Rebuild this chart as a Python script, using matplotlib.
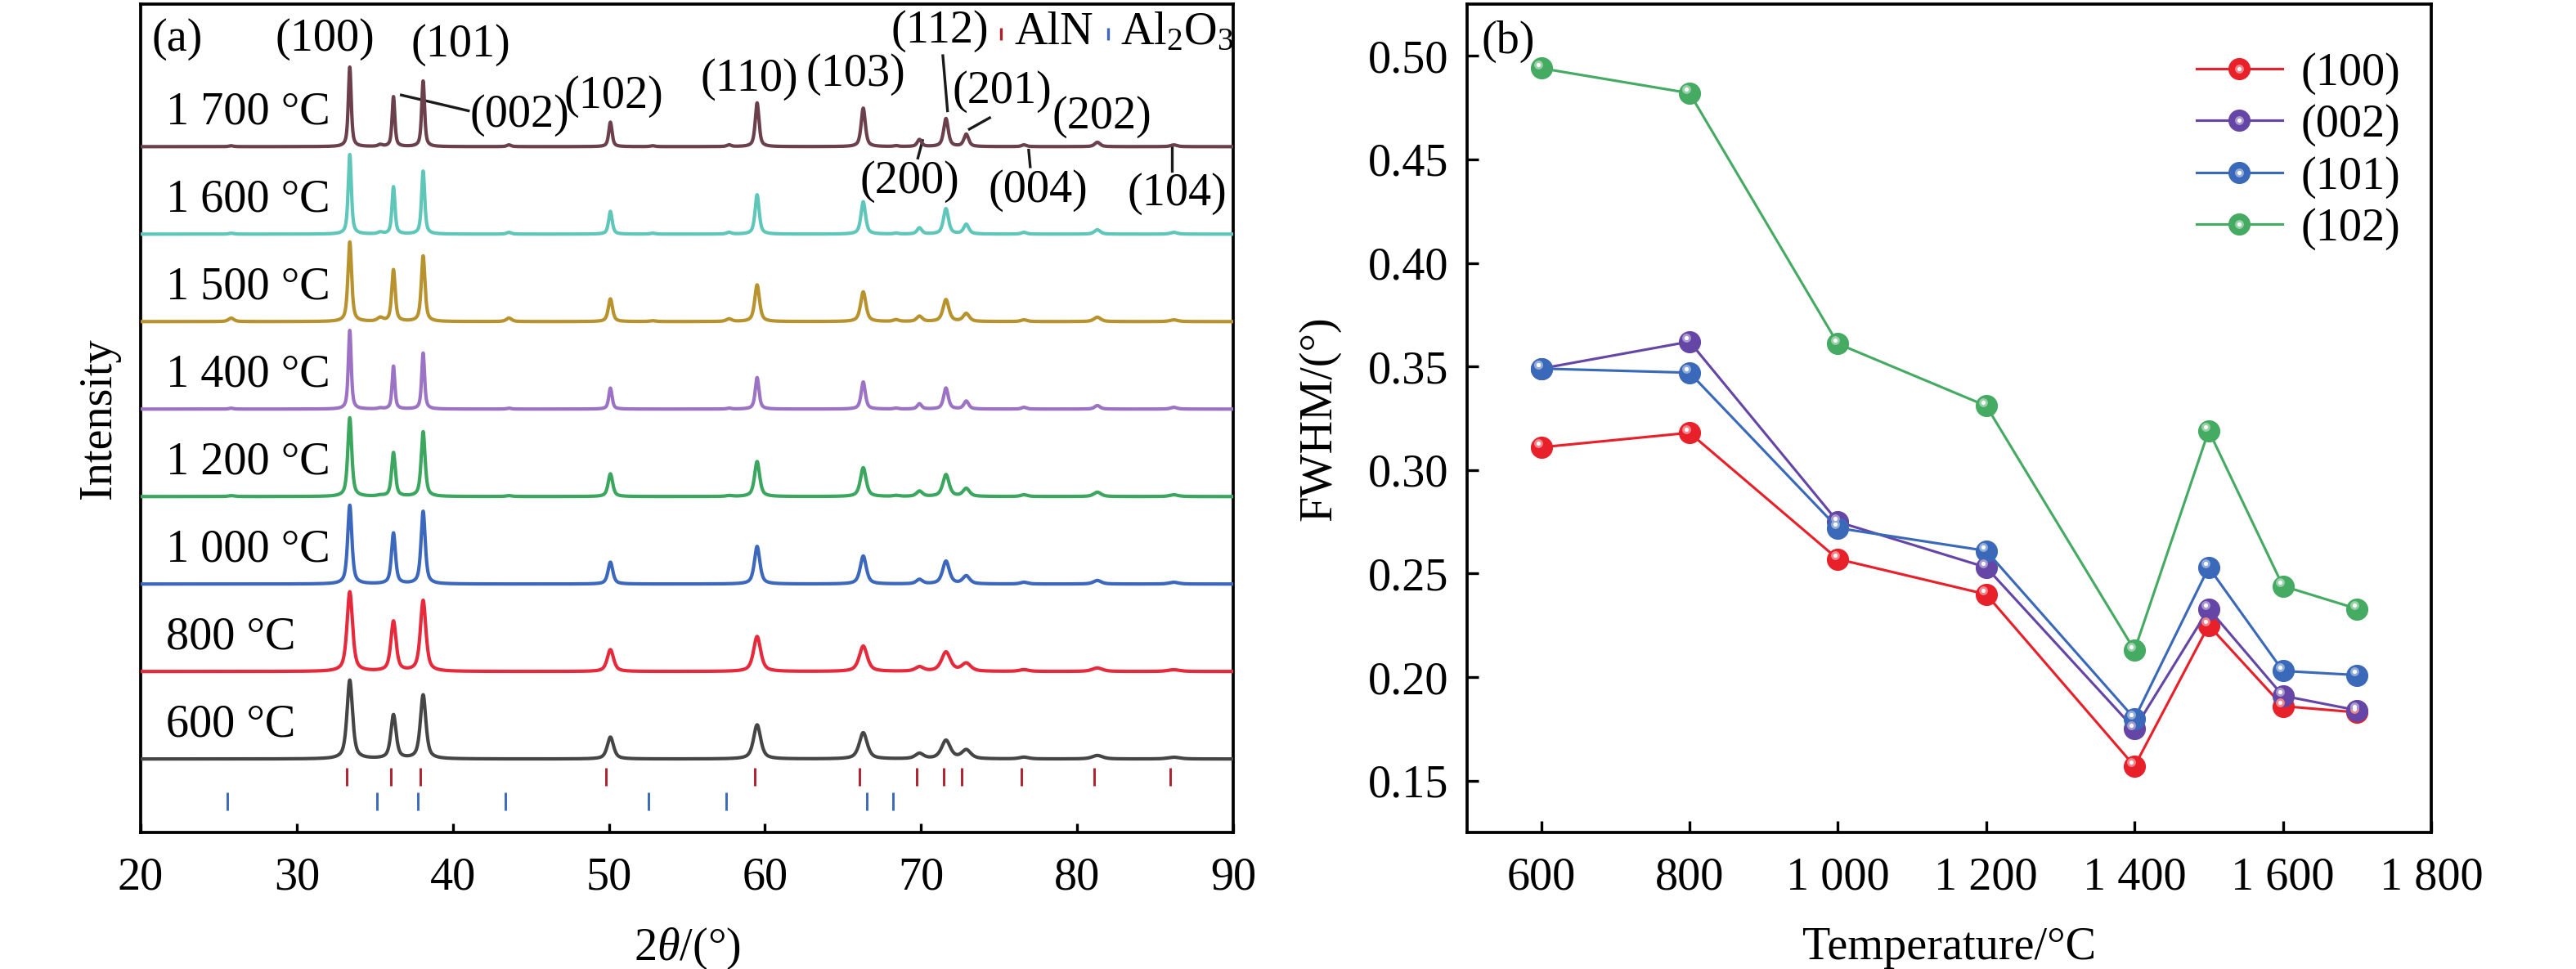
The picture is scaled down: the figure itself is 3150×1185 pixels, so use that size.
import numpy as np
import matplotlib
matplotlib.use("Agg")
import matplotlib.pyplot as plt
from matplotlib.transforms import ScaledTranslation
from matplotlib.legend_handler import HandlerTuple

plt.rcParams['font.family'] = ['Liberation Serif', 'DejaVu Serif']
plt.rcParams['mathtext.fontset'] = 'custom'
plt.rcParams['mathtext.rm'] = 'Liberation Serif'
plt.rcParams['mathtext.it'] = 'Liberation Serif:italic'
plt.rcParams['font.size'] = 13.5

# ---------------- data: panel (a) XRD ----------------
samples = ['600 °C', '800 °C', '1 000 °C', '1 200 °C', '1 400 °C', '1 500 °C', '1 600 °C', '1 700 °C']
sample_colors = ['#454545', '#e62a3c', '#3b67bd', '#3aa65e', '#9b72c4', '#b8922c', '#5ec7ba', '#6b3f4c']
offsets = [0, 1, 2, 3, 4, 5, 6, 7]

aln_hkl = ['(100)', '(002)', '(101)', '(102)', '(110)', '(103)', '(200)', '(112)', '(201)', '(004)', '(202)', '(104)']
aln_peak_pos = [33.4, 36.2, 38.1, 50.1, 59.5, 66.3, 69.9, 71.6, 72.9, 76.6, 81.3, 86.2]
aln_width_factor = [1.0, 0.95, 1.0, 1.15, 1.3, 1.45, 1.5, 1.6, 1.65, 1.7, 1.9, 2.2]
aln_heights = [
    [0.90, 0.50, 0.73, 0.25, 0.39, 0.30, 0.06, 0.21, 0.10, 0.02, 0.04, 0.02],
    [0.91, 0.57, 0.81, 0.25, 0.40, 0.29, 0.05, 0.22, 0.09, 0.02, 0.04, 0.02],
    [0.90, 0.58, 0.83, 0.25, 0.43, 0.32, 0.05, 0.26, 0.09, 0.02, 0.04, 0.02],
    [0.90, 0.50, 0.74, 0.26, 0.40, 0.33, 0.06, 0.25, 0.09, 0.02, 0.05, 0.02],
    [0.90, 0.49, 0.64, 0.24, 0.36, 0.31, 0.06, 0.24, 0.09, 0.02, 0.04, 0.02],
    [0.91, 0.59, 0.75, 0.26, 0.42, 0.34, 0.06, 0.25, 0.09, 0.02, 0.05, 0.02],
    [0.91, 0.54, 0.72, 0.26, 0.45, 0.37, 0.07, 0.29, 0.11, 0.02, 0.05, 0.02],
    [0.91, 0.57, 0.75, 0.28, 0.50, 0.44, 0.08, 0.32, 0.14, 0.02, 0.05, 0.02],
]
sample_fwhm = [0.42, 0.42, 0.32, 0.30, 0.22, 0.28, 0.24, 0.22]

al2o3_peak_pos = [25.8, 35.35, 43.6, 52.8, 57.7, 68.4]
al2o3_heights = [
    [0, 0, 0, 0, 0, 0],
    [0, 0, 0, 0, 0, 0],
    [0, 0, 0, 0, 0, 0],
    [0.01, 0.01, 0.01, 0, 0.01, 0.01],
    [0.01, 0.01, 0.01, 0, 0.01, 0.01],
    [0.04, 0.04, 0.04, 0.01, 0.03, 0.02],
    [0.01, 0.02, 0.02, 0.01, 0.02, 0.01],
    [0.01, 0.02, 0.02, 0.01, 0.02, 0.01],
]

aln_ref = [33.22, 36.04, 37.92, 49.82, 59.35, 66.05, 69.73, 71.44, 72.63, 76.44, 81.09, 85.97]
al2o3_ref = [25.58, 35.15, 37.78, 43.36, 52.55, 57.50, 66.52, 68.21]

# ---------------- data: panel (b) FWHM ----------------
temps = [600, 800, 1000, 1200, 1400, 1500, 1600, 1700]
fwhm_100 = [0.311, 0.318, 0.257, 0.240, 0.157, 0.225, 0.186, 0.183]
fwhm_002 = [0.349, 0.362, 0.275, 0.253, 0.175, 0.233, 0.191, 0.184]
fwhm_101 = [0.349, 0.347, 0.272, 0.261, 0.180, 0.253, 0.203, 0.201]
fwhm_102 = [0.494, 0.482, 0.361, 0.331, 0.213, 0.319, 0.244, 0.233]
fwhm_labels = ['(100)', '(002)', '(101)', '(102)']
fwhm_colors = ['#e8202a', '#6546a6', '#3b69b9', '#45aa62']

# ---------------- figure ----------------
fig = plt.figure(figsize=(10.5, 3.95), dpi=300)
axa = fig.add_axes([0.0546, 0.1409, 0.4241, 0.8549])
axb = fig.add_axes([0.5695, 0.1409, 0.3743, 0.8549])

def pv(x, x0, w, eta=0.65):
    g = np.exp(-4 * np.log(2) * ((x - x0) / w) ** 2)
    l = 1.0 / (1 + 4 * ((x - x0) / w) ** 2)
    return eta * l + (1 - eta) * g

x = np.linspace(20, 90, 8001)
for i in range(len(samples)):
    y = np.zeros_like(x)
    for p, h, f in zip(aln_peak_pos, aln_heights[i], aln_width_factor):
        y += h * pv(x, p, sample_fwhm[i] * f)
    for p, h in zip(al2o3_peak_pos, al2o3_heights[i]):
        y += h * pv(x, p, sample_fwhm[i] * 1.5)
    axa.plot(x, y + offsets[i], color=sample_colors[i], lw=1.0, zorder=3)
    axa.text(21.6, offsets[i] + 0.39, samples[i], ha='left', va='center', fontsize=13.5)

axa.vlines(aln_ref, -0.31, -0.10, color='#b0202c', lw=0.7)
axa.vlines(al2o3_ref, -0.59, -0.38, color='#3b67bd', lw=0.7)

axa.set_xlim(20, 90)
axa.set_ylim(-0.84, 8.63)
axa.set_xticks(range(20, 91, 10))
axa.set_yticks([])
axa.set_xlabel(r'2$\it{\theta}$/(°)', fontsize=13.5, labelpad=8)
axa.set_ylabel('Intensity', fontsize=13.5, labelpad=6)
axa.tick_params(axis='x', direction='in', length=2.7, width=0.8, pad=7, labelsize=13.5)

# annotations panel (a)
fs_lab = 13.5
axa.text(20.7, 8.23, '(a)', ha='left', va='center', fontsize=13.5)
axa.text(31.8, 8.23, '(100)', ha='center', va='center', fontsize=fs_lab)
axa.text(40.5, 8.16, '(101)', ha='center', va='center', fontsize=fs_lab)
axa.text(44.3, 7.36, '(002)', ha='center', va='center', fontsize=fs_lab)
axa.plot([36.7, 41.0], [7.59, 7.41], color='#1a1a1a', lw=0.8)
axa.text(50.3, 7.57, '(102)', ha='center', va='center', fontsize=fs_lab)
axa.text(59.0, 7.77, '(110)', ha='center', va='center', fontsize=fs_lab)
axa.text(65.8, 7.83, '(103)', ha='center', va='center', fontsize=fs_lab)
axa.text(71.2, 8.32, '(112)', ha='center', va='center', fontsize=fs_lab)
axa.plot([71.4, 71.7], [8.04, 7.41], color='#1a1a1a', lw=0.8)
axa.text(75.2, 7.63, '(201)', ha='center', va='center', fontsize=fs_lab)
axa.plot([74.4, 73.1], [7.33, 7.20], color='#1a1a1a', lw=0.8)
axa.text(81.6, 7.34, '(202)', ha='center', va='center', fontsize=fs_lab)
axa.text(69.3, 6.60, '(200)', ha='center', va='center', fontsize=fs_lab)
axa.plot([70.1, 69.8], [7.07, 6.87], color='#1a1a1a', lw=0.8)
axa.text(77.5, 6.50, '(004)', ha='center', va='center', fontsize=fs_lab)
axa.plot([76.9, 77.0], [6.96, 6.77], color='#1a1a1a', lw=0.8)
axa.text(86.4, 6.46, '(104)', ha='center', va='center', fontsize=fs_lab)
axa.plot([86.1, 86.1], [6.99, 6.72], color='#1a1a1a', lw=0.8)
# phase key
axa.vlines([75.1], 8.22, 8.36, color='#b0202c', lw=0.8)
axa.text(76.0, 8.30, 'AlN', ha='left', va='center', fontsize=13.5)
axa.vlines([82.0], 8.22, 8.36, color='#3b67bd', lw=0.8)
axa.text(82.8, 8.30, r'Al$_2$O$_3$', ha='left', va='center', fontsize=13.5)

for sp in axa.spines.values():
    sp.set_linewidth(0.9)

# ---------------- panel (b) ----------------
def lighten(c, f):
    c = np.array(matplotlib.colors.to_rgb(c))
    return tuple(c + (1 - c) * f)

ms = 6.2
off = ScaledTranslation(-0.9 / 72, 1.1 / 72, fig.dpi_scale_trans)
handles = []
for vals, lab, col in zip([fwhm_100, fwhm_002, fwhm_101, fwhm_102], fwhm_labels, fwhm_colors):
    ln, = axb.plot(temps, vals, '-o', color=col, lw=0.75, ms=ms,
                   markeredgecolor=col, markeredgewidth=0.3, zorder=3)
    h1, = axb.plot(temps, vals, 'o', color=lighten(col, 0.45), ms=ms * 0.42,
                   markeredgewidth=0, transform=axb.transData + off, zorder=4)
    h2, = axb.plot(temps, vals, 'o', color='white', ms=ms * 0.2,
                   markeredgewidth=0, transform=axb.transData + off, zorder=5)
    handles.append((ln, h1, h2))

axb.set_xlim(500, 1800)
axb.set_ylim(0.125, 0.525)
axb.set_xticks([600, 800, 1000, 1200, 1400, 1600, 1800])
axb.set_xticklabels(['600', '800', '1 000', '1 200', '1 400', '1 600', '1 800'])
axb.set_yticks(np.arange(0.15, 0.501, 0.05))
axb.set_yticklabels(['%.2f' % v for v in np.arange(0.15, 0.501, 0.05)])
axb.tick_params(direction='in', length=3.4, width=0.8, labelsize=13.5)
axb.tick_params(axis='x', pad=7)
axb.tick_params(axis='y', pad=5.5)
axb.set_xlabel('Temperature/°C', fontsize=13.5, labelpad=8)
axb.set_ylabel('FWHM/(°)', fontsize=13.5, labelpad=8)
axb.text(0.015, 0.955, '(b)', transform=axb.transAxes, ha='left', va='center', fontsize=13.5)
axb.legend(handles, fwhm_labels, handler_map={tuple: HandlerTuple(ndivide=1)},
           loc='upper left', bbox_to_anchor=(0.757, 0.942), frameon=False,
           borderpad=0, borderaxespad=0, handlelength=1.85, handletextpad=0.4,
           labelspacing=0.2, fontsize=13.5)
for sp in axb.spines.values():
    sp.set_linewidth(0.9)

fig.savefig('out.png', dpi=300)
